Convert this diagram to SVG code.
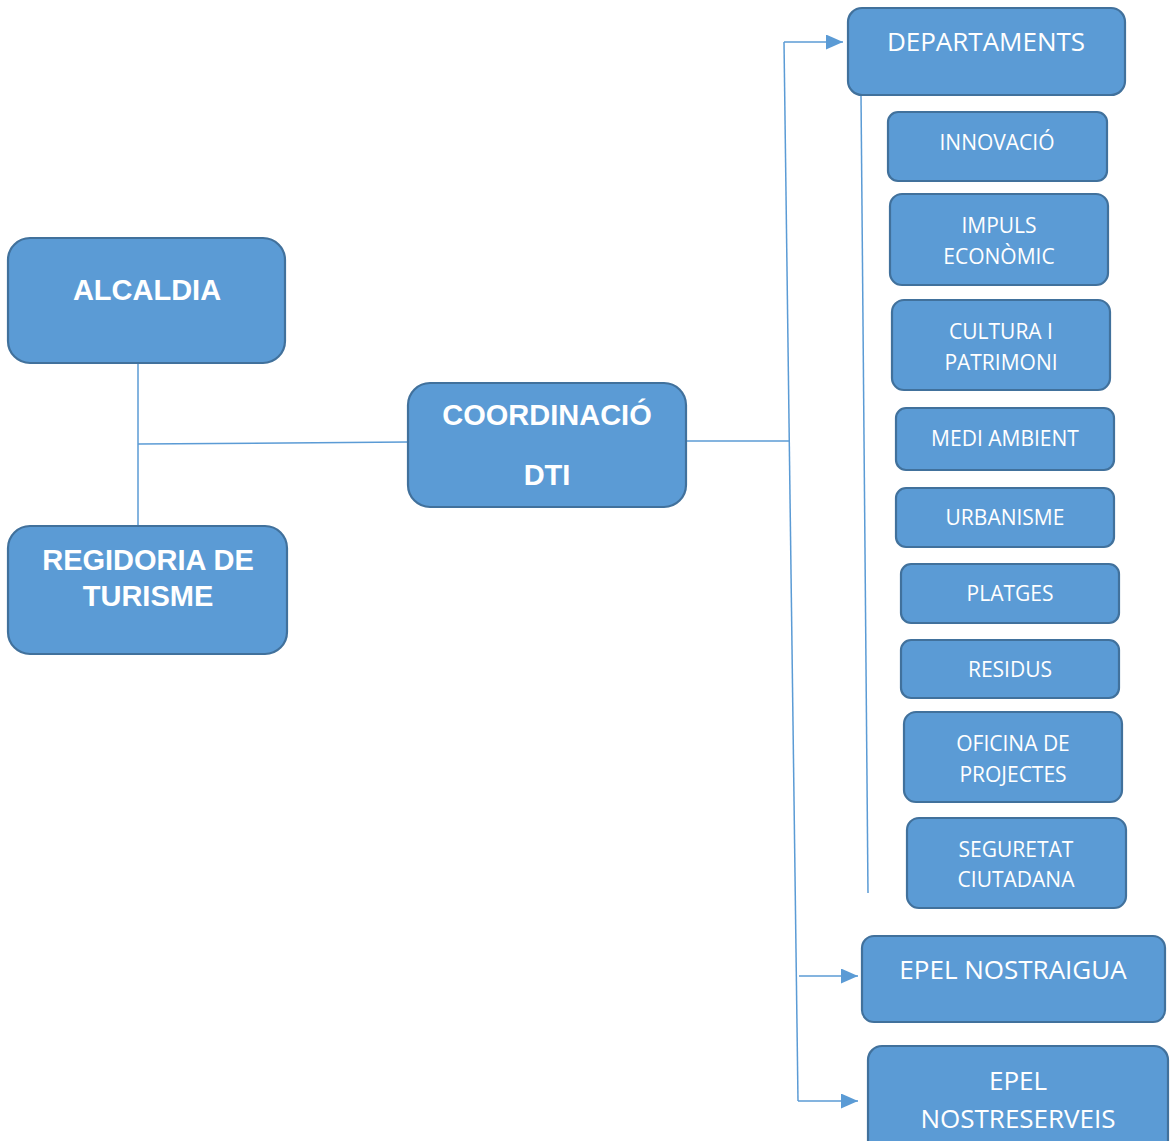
<svg xmlns="http://www.w3.org/2000/svg" width="1170" height="1141" viewBox="0 0 1170 1141">
<style>
.box{fill:#5B9BD5;stroke:#41719C;stroke-width:2.2}
.b{font-family:"Liberation Sans",Arial,sans-serif;font-weight:bold;font-size:29px;fill:#fff;text-anchor:middle}
.t{font-family:"Open Sans","Noto Sans",sans-serif;font-size:21px;fill:#fff;text-anchor:middle}
.tl{font-family:"Open Sans","Noto Sans",sans-serif;font-size:26px;fill:#fff;text-anchor:middle}
.c{fill:none;stroke:#5B9BD5;stroke-width:1.5}
</style>
<defs>
<marker id="arr" markerWidth="17" markerHeight="15" refX="17" refY="7.5" orient="auto" markerUnits="userSpaceOnUse">
<path d="M0,0 L17,7.5 L0,15 Z" fill="#5B9BD5"/>
</marker>
</defs>
<rect width="1170" height="1141" fill="#fff"/>
<g id="connectors">
<path class="c" d="M138,363 L138,526"/>
<path class="c" d="M138,444 L408,442"/>
<path class="c" d="M686,441 L790,441"/>
<path class="c" d="M784,42 L798,1101"/>
<path class="c" d="M784,42 L843,42" marker-end="url(#arr)"/>
<path class="c" d="M799,976 L858,976" marker-end="url(#arr)"/>
<path class="c" d="M798,1101 L858,1101" marker-end="url(#arr)"/>
<path class="c" d="M861,95 L868,893"/>
</g>
<g id="alcaldia"><rect class="box" x="8" y="238" width="277" height="125" rx="22"/><text class="b" x="147" y="300">ALCALDIA</text></g>
<g id="regidoria"><rect class="box" x="8" y="526" width="279" height="128" rx="22"/><text class="b" x="148" y="570">REGIDORIA DE</text><text class="b" x="148" y="606">TURISME</text></g>
<g id="coordinacio"><rect class="box" x="408" y="383" width="278" height="124" rx="22"/><text class="b" x="547" y="425">COORDINACIÓ</text><text class="b" x="547" y="485">DTI</text></g>
<g id="departaments"><rect class="box" x="848" y="8" width="277" height="87" rx="14"/><text class="tl" x="986" y="51">DEPARTAMENTS</text></g>
<g id="innovacio"><rect class="box" x="888" y="112" width="219" height="69" rx="10"/><text class="t" x="997" y="150">INNOVACIÓ</text></g>
<g id="impuls"><rect class="box" x="890" y="194" width="218" height="91" rx="12"/><text class="t" x="999" y="233">IMPULS</text><text class="t" x="999" y="264">ECONÒMIC</text></g>
<g id="cultura"><rect class="box" x="892" y="300" width="218" height="90" rx="12"/><text class="t" x="1001" y="339">CULTURA I</text><text class="t" x="1001" y="370">PATRIMONI</text></g>
<g id="medi"><rect class="box" x="896" y="408" width="218" height="62" rx="10"/><text class="t" x="1005" y="446">MEDI AMBIENT</text></g>
<g id="urbanisme"><rect class="box" x="896" y="488" width="218" height="59" rx="10"/><text class="t" x="1005" y="525">URBANISME</text></g>
<g id="platges"><rect class="box" x="901" y="564" width="218" height="59" rx="10"/><text class="t" x="1010" y="601">PLATGES</text></g>
<g id="residus"><rect class="box" x="901" y="640" width="218" height="58" rx="10"/><text class="t" x="1010" y="677">RESIDUS</text></g>
<g id="oficina"><rect class="box" x="904" y="712" width="218" height="90" rx="12"/><text class="t" x="1013" y="751">OFICINA DE</text><text class="t" x="1013" y="782">PROJECTES</text></g>
<g id="seguretat"><rect class="box" x="907" y="818" width="219" height="90" rx="12"/><text class="t" x="1016" y="857">SEGURETAT</text><text class="t" x="1016" y="887">CIUTADANA</text></g>
<g id="nostraigua"><rect class="box" x="862" y="936" width="303" height="86" rx="12"/><text class="tl" x="1013" y="979">EPEL NOSTRAIGUA</text></g>
<g id="nostreserveis"><rect class="box" x="868" y="1046" width="300" height="110" rx="14"/><text class="tl" x="1018" y="1090">EPEL</text><text class="tl" x="1018" y="1128">NOSTRESERVEIS</text></g>
</svg>
